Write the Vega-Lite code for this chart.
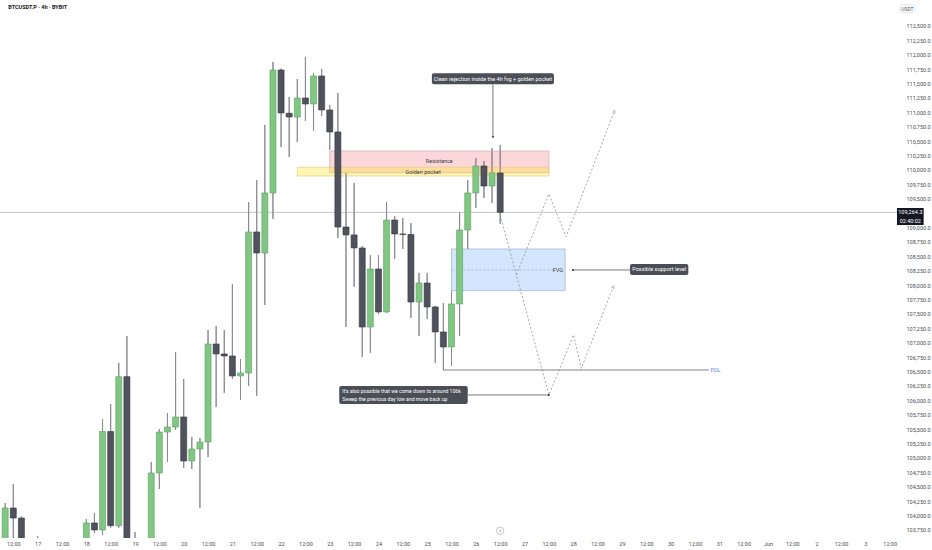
{
  "$schema": "https://vega.github.io/schema/vega-lite/v6.json",
  "width": 900,
  "height": 538,
  "autosize": {"type": "none"},
  "padding": {"left": 0, "top": 0, "right": 32, "bottom": 12},
  "background": "#ffffff",
  "config": {"view": {"stroke": null}, "font": "Roboto"},
  "datasets": {
    "candles": [
      {"t": "2025-05-16T08:00:00Z", "o": 103500, "h": 104219, "l": 103400, "c": 104132},
      {"t": "2025-05-16T12:00:00Z", "o": 104132, "h": 104549, "l": 103550, "c": 103958},
      {"t": "2025-05-16T16:00:00Z", "o": 103958, "h": 103985, "l": 103300, "c": 103450},
      {"t": "2025-05-16T20:00:00Z", "o": 103450, "h": 103580, "l": 103150, "c": 103350},
      {"t": "2025-05-17T00:00:00Z", "o": 103350, "h": 103646, "l": 103100, "c": 103250},
      {"t": "2025-05-17T04:00:00Z", "o": 103250, "h": 103450, "l": 102950, "c": 103100},
      {"t": "2025-05-17T08:00:00Z", "o": 103100, "h": 103300, "l": 102700, "c": 102850},
      {"t": "2025-05-17T12:00:00Z", "o": 102850, "h": 103200, "l": 102600, "c": 103050},
      {"t": "2025-05-17T16:00:00Z", "o": 103050, "h": 103350, "l": 102900, "c": 103150},
      {"t": "2025-05-17T20:00:00Z", "o": 103150, "h": 103500, "l": 102800, "c": 103300},
      {"t": "2025-05-18T00:00:00Z", "o": 103300, "h": 103941, "l": 103150, "c": 103872},
      {"t": "2025-05-18T04:00:00Z", "o": 103872, "h": 104045, "l": 103698, "c": 103750},
      {"t": "2025-05-18T08:00:00Z", "o": 103750, "h": 105677, "l": 103663, "c": 105460},
      {"t": "2025-05-18T12:00:00Z", "o": 105460, "h": 105938, "l": 103790, "c": 103825},
      {"t": "2025-05-18T16:00:00Z", "o": 103825, "h": 106649, "l": 103790, "c": 106412},
      {"t": "2025-05-18T20:00:00Z", "o": 106412, "h": 107118, "l": 103000, "c": 103350},
      {"t": "2025-05-19T00:00:00Z", "o": 103350, "h": 103715, "l": 102600, "c": 102900},
      {"t": "2025-05-19T04:00:00Z", "o": 102900, "h": 103500, "l": 102500, "c": 103250},
      {"t": "2025-05-19T08:00:00Z", "o": 103250, "h": 104931, "l": 103100, "c": 104740},
      {"t": "2025-05-19T12:00:00Z", "o": 104740, "h": 105503, "l": 104462, "c": 105451},
      {"t": "2025-05-19T16:00:00Z", "o": 105451, "h": 105781, "l": 104931, "c": 105538},
      {"t": "2025-05-19T20:00:00Z", "o": 105538, "h": 106840, "l": 105486, "c": 105712},
      {"t": "2025-05-20T00:00:00Z", "o": 105712, "h": 106372, "l": 104826, "c": 104948},
      {"t": "2025-05-20T04:00:00Z", "o": 104948, "h": 105365, "l": 104809, "c": 105156},
      {"t": "2025-05-20T08:00:00Z", "o": 105156, "h": 105347, "l": 104132, "c": 105278},
      {"t": "2025-05-20T12:00:00Z", "o": 105278, "h": 107222, "l": 105017, "c": 106979},
      {"t": "2025-05-20T16:00:00Z", "o": 106979, "h": 107292, "l": 105885, "c": 106806},
      {"t": "2025-05-20T20:00:00Z", "o": 106806, "h": 107222, "l": 106128, "c": 106771},
      {"t": "2025-05-21T00:00:00Z", "o": 106771, "h": 108021, "l": 106372, "c": 106424},
      {"t": "2025-05-21T04:00:00Z", "o": 106424, "h": 106719, "l": 106007, "c": 106476},
      {"t": "2025-05-21T08:00:00Z", "o": 106476, "h": 109444, "l": 106250, "c": 108924},
      {"t": "2025-05-21T12:00:00Z", "o": 108924, "h": 109826, "l": 106076, "c": 108559},
      {"t": "2025-05-21T16:00:00Z", "o": 108559, "h": 110781, "l": 107656, "c": 109601},
      {"t": "2025-05-21T20:00:00Z", "o": 109601, "h": 111875, "l": 109149, "c": 111736},
      {"t": "2025-05-22T00:00:00Z", "o": 111736, "h": 111760, "l": 110399, "c": 110990},
      {"t": "2025-05-22T04:00:00Z", "o": 110985, "h": 111267, "l": 110226, "c": 110920},
      {"t": "2025-05-22T08:00:00Z", "o": 110920, "h": 111580, "l": 110486, "c": 111250},
      {"t": "2025-05-22T12:00:00Z", "o": 111250, "h": 111962, "l": 110851, "c": 111146},
      {"t": "2025-05-22T16:00:00Z", "o": 111146, "h": 111684, "l": 110677, "c": 111632},
      {"t": "2025-05-22T20:00:00Z", "o": 111632, "h": 111754, "l": 110938, "c": 111042},
      {"t": "2025-05-23T00:00:00Z", "o": 111042, "h": 111128, "l": 110347, "c": 110660},
      {"t": "2025-05-23T04:00:00Z", "o": 110660, "h": 111337, "l": 108819, "c": 109010},
      {"t": "2025-05-23T08:00:00Z", "o": 109010, "h": 109948, "l": 107274, "c": 108872},
      {"t": "2025-05-23T12:00:00Z", "o": 108872, "h": 109774, "l": 107969, "c": 108646},
      {"t": "2025-05-23T16:00:00Z", "o": 108646, "h": 108680, "l": 106754, "c": 107274},
      {"t": "2025-05-23T20:00:00Z", "o": 107274, "h": 108524, "l": 106823, "c": 108281},
      {"t": "2025-05-24T00:00:00Z", "o": 108281, "h": 108524, "l": 107500, "c": 107535},
      {"t": "2025-05-24T04:00:00Z", "o": 107535, "h": 109444, "l": 107520, "c": 109132},
      {"t": "2025-05-24T08:00:00Z", "o": 109132, "h": 109202, "l": 108455, "c": 108889},
      {"t": "2025-05-24T12:00:00Z", "o": 108889, "h": 109167, "l": 108628, "c": 108880},
      {"t": "2025-05-24T16:00:00Z", "o": 108880, "h": 109080, "l": 107431, "c": 107708},
      {"t": "2025-05-24T20:00:00Z", "o": 107708, "h": 108212, "l": 107118, "c": 108038},
      {"t": "2025-05-25T00:00:00Z", "o": 108038, "h": 108212, "l": 107413, "c": 107622},
      {"t": "2025-05-25T04:00:00Z", "o": 107622, "h": 107640, "l": 106649, "c": 107188},
      {"t": "2025-05-25T08:00:00Z", "o": 107188, "h": 107691, "l": 106528, "c": 106927},
      {"t": "2025-05-25T12:00:00Z", "o": 106927, "h": 107899, "l": 106597, "c": 107674},
      {"t": "2025-05-25T16:00:00Z", "o": 107674, "h": 109271, "l": 107118, "c": 108958},
      {"t": "2025-05-25T20:00:00Z", "o": 108958, "h": 109826, "l": 108628, "c": 109601},
      {"t": "2025-05-26T00:00:00Z", "o": 109601, "h": 110208, "l": 109340, "c": 110069},
      {"t": "2025-05-26T04:00:00Z", "o": 110069, "h": 110156, "l": 109514, "c": 109722},
      {"t": "2025-05-26T08:00:00Z", "o": 109722, "h": 110382, "l": 109427, "c": 109948},
      {"t": "2025-05-26T12:00:00Z", "o": 109948, "h": 110434, "l": 109063, "c": 109264.3}
    ],
    "lastprice": [{"price": 109264.3}],
    "zones": [
      {"zone": "Resistance", "t0": "2025-05-23T00:00:00Z", "t1": "2025-05-27T12:00:00Z", "lo": 109953, "hi": 110330},
      {"zone": "Golden pocket", "t0": "2025-05-22T08:00:00Z", "t1": "2025-05-27T12:00:00Z", "lo": 109896, "hi": 110047},
      {"zone": "FVG", "t0": "2025-05-25T12:00:00Z", "t1": "2025-05-27T20:00:00Z", "lo": 107905, "hi": 108628}
    ],
    "zonetext": [
      {"text": "Resistance", "t": "2025-05-25T06:00:00Z", "p": 110160},
      {"text": "Golden pocket", "t": "2025-05-24T22:00:00Z", "p": 109970}
    ],
    "fvgtext": [{"text": "FVG", "t": "2025-05-27T19:00:00Z", "p": 108264}],
    "fvgmid": [{"t0": "2025-05-25T12:00:00Z", "t1": "2025-05-27T15:00:00Z", "p": 108264}],
    "pdl": [{"t0": "2025-05-25T08:00:00Z", "t1": "2025-05-30T18:50:00Z", "p": 106528, "text": "PDL", "tt": "2025-05-30T19:40:00Z"}],
    "paths": [
      {"path": "down", "step": 1, "t": "2025-05-26T12:00:00Z", "p": 109219},
      {"path": "down", "step": 2, "t": "2025-05-27T12:00:00Z", "p": 106094},
      {"path": "down", "step": 3, "t": "2025-05-28T00:10:00Z", "p": 107136},
      {"path": "down", "step": 4, "t": "2025-05-28T04:00:00Z", "p": 106557},
      {"path": "down", "step": 5, "t": "2025-05-28T19:40:00Z", "p": 107964},
      {"path": "up", "step": 1, "t": "2025-05-26T20:00:00Z", "p": 108180},
      {"path": "up", "step": 2, "t": "2025-05-27T12:00:00Z", "p": 109583},
      {"path": "up", "step": 3, "t": "2025-05-27T20:30:00Z", "p": 108842},
      {"path": "up", "step": 4, "t": "2025-05-28T20:10:00Z", "p": 111012}
    ],
    "arrows": [
      {"t": "2025-05-28T19:40:00Z", "p": 107964},
      {"t": "2025-05-28T20:10:00Z", "p": 111012}
    ],
    "connectors": [
      {"t0": "2025-05-26T08:25:00Z", "t1": "2025-05-26T08:25:00Z", "p0": 111488, "p1": 110578},
      {"t0": "2025-05-27T23:50:00Z", "t1": "2025-05-29T04:00:00Z", "p0": 108264, "p1": 108264},
      {"t0": "2025-05-25T20:00:00Z", "t1": "2025-05-27T12:00:00Z", "p0": 106094, "p1": 106094}
    ],
    "dots": [
      {"t": "2025-05-26T08:25:00Z", "p": 110578},
      {"t": "2025-05-27T23:50:00Z", "p": 108264},
      {"t": "2025-05-27T12:00:00Z", "p": 106094}
    ],
    "labelboxes": [
      {"t0": "2025-05-25T02:20:00Z", "t1": "2025-05-27T14:30:00Z", "p0": 111488, "p1": 111679},
      {"t0": "2025-05-29T04:00:00Z", "t1": "2025-05-30T08:45:00Z", "p0": 108177, "p1": 108368},
      {"t0": "2025-05-23T04:40:00Z", "t1": "2025-05-25T20:00:00Z", "p0": 105938, "p1": 106250}
    ],
    "labelcenter": [
      {"text": "Clean rejection inside the 4h fvg + golden pocket", "t": "2025-05-26T08:25:00Z", "p": 111583},
      {"text": "Possible support level", "t": "2025-05-29T18:22:00Z", "p": 108273}
    ],
    "labelleft": [
      {"text": "It's also possible that we come down to around 106k", "t": "2025-05-23T06:10:00Z", "p": 106168},
      {"text": "Sweep the previous day low and move back up", "t": "2025-05-23T06:10:00Z", "p": 106024}
    ],
    "pricetag": [{"t0": "2025-06-03T15:35:00Z", "t1": "2025-06-04T04:45:00Z", "p0": 109045, "p1": 109340}],
    "pricetagtext": [
      {"text": "109,264.3", "t": "2025-06-03T22:10:00Z", "p": 109271},
      {"text": "02:40:02", "t": "2025-06-03T22:10:00Z", "p": 109120}
    ],
    "unitbox": [{"t0": "2025-06-03T17:05:00Z", "t1": "2025-06-04T00:20:00Z", "p0": 112731, "p1": 112865, "text": "USDT", "t": "2025-06-03T20:43:00Z", "p": 112798}],
    "title": [{"text": "BTCUSDT.P · 4h · BYBIT", "t": "2025-05-16T09:30:00Z", "p": 112825}],
    "event": [{"t": "2025-05-26T12:00:00Z", "p": 103735, "text": "⚡"}]
  },
  "layer": [
    {
      "data": {"name": "candles"},
      "mark": {"type": "rule", "color": "#8a8c93", "strokeWidth": 1, "clip": true},
      "encoding": {
        "x": {
          "field": "t", "type": "temporal",
          "scale": {"type": "utc", "nice": false, "domain": [1747382100000, 1748961420000]},
          "axis": {"orient": "bottom", "title": null, "tickCount": 200, "values": [1747396800000, 1747440000000, 1747483200000, 1747526400000, 1747569600000, 1747612800000, 1747656000000, 1747699200000, 1747742400000, 1747785600000, 1747828800000, 1747872000000, 1747915200000, 1747958400000, 1748001600000, 1748044800000, 1748088000000, 1748131200000, 1748174400000, 1748217600000, 1748260800000, 1748304000000, 1748347200000, 1748390400000, 1748433600000, 1748476800000, 1748520000000, 1748563200000, 1748606400000, 1748649600000, 1748692800000, 1748736000000, 1748779200000, 1748822400000, 1748865600000, 1748908800000, 1748952000000], "labelExpr": "utchours(datum.value) == 12 ? '12:00' : (utcdate(datum.value) == 1 ? 'Jun' : '' + utcdate(datum.value))", "domain": false, "ticks": false, "grid": false, "labelFontSize": 5.5, "labelColor": "#4a4c52", "labelPadding": 3, "labelOverlap": false, "labelFlush": false, "labelFont": "Roboto"}
        },
        "y": {
          "field": "l", "type": "quantitative",
          "scale": {"domain": [103611, 112951], "nice": false, "zero": false},
          "axis": {"orient": "right", "title": null, "tickCount": 200, "values": [103750, 104000, 104250, 104500, 104750, 105000, 105250, 105500, 105750, 106000, 106250, 106500, 106750, 107000, 107250, 107500, 107750, 108000, 108250, 108500, 108750, 109000, 109500, 109750, 110000, 110250, 110500, 110750, 111000, 111250, 111500, 111750, 112000, 112250, 112500], "format": ",.1f", "domain": false, "ticks": false, "grid": false, "labelPadding": 6, "labelFontSize": 5.5, "labelColor": "#4a4c52", "labelOverlap": false, "labelFont": "Roboto"}
        },
        "y2": {"field": "h"}
      }
    },
    {
      "data": {"name": "lastprice"},
      "mark": {"type": "rule", "color": "#b6b8be", "strokeWidth": 0.8},
      "encoding": {"y": {"field": "price", "type": "quantitative"}}
    },
    {
      "data": {"name": "zones"},
      "mark": {"type": "rect", "strokeWidth": 0.8},
      "encoding": {
        "x": {"field": "t0", "type": "temporal"},
        "x2": {"field": "t1"},
        "y": {"field": "lo", "type": "quantitative"},
        "y2": {"field": "hi"},
        "fill": {"field": "zone", "type": "nominal", "legend": null, "scale": {"domain": ["Resistance", "Golden pocket", "FVG"], "range": ["rgba(242,54,69,0.2)", "rgba(255,230,60,0.38)", "rgba(33,130,243,0.2)"]}},
        "stroke": {"field": "zone", "type": "nominal", "legend": null, "scale": {"domain": ["Resistance", "Golden pocket", "FVG"], "range": ["#cdb7b9", "#e6d088", "#a9b9cf"]}}
      }
    },
    {
      "data": {"name": "fvgmid"},
      "mark": {"type": "rule", "color": "#9ea7b3", "strokeWidth": 0.7, "strokeDash": [2, 2]},
      "encoding": {
        "x": {"field": "t0", "type": "temporal"},
        "x2": {"field": "t1"},
        "y": {"field": "p", "type": "quantitative"}
      }
    },
    {
      "data": {"name": "zonetext"},
      "mark": {"type": "text", "fontSize": 5.5, "color": "#3a3c42", "align": "center", "baseline": "middle"},
      "encoding": {
        "x": {"field": "t", "type": "temporal"},
        "y": {"field": "p", "type": "quantitative"},
        "text": {"field": "text"}
      }
    },
    {
      "data": {"name": "fvgtext"},
      "mark": {"type": "text", "fontSize": 5.5, "color": "#3a3c42", "align": "right", "baseline": "middle"},
      "encoding": {
        "x": {"field": "t", "type": "temporal"},
        "y": {"field": "p", "type": "quantitative"},
        "text": {"field": "text"}
      }
    },
    {
      "data": {"name": "candles"},
      "mark": {"type": "rule", "color": "#8a8c93", "strokeWidth": 1, "clip": true},
      "encoding": {
        "x": {"field": "t", "type": "temporal"},
        "y": {"field": "l", "type": "quantitative"},
        "y2": {"field": "h"}
      }
    },
    {
      "data": {"name": "candles"},
      "mark": {"type": "bar", "size": 6, "strokeWidth": 0.6, "clip": true},
      "encoding": {
        "x": {"field": "t", "type": "temporal"},
        "y": {"field": "o", "type": "quantitative"},
        "y2": {"field": "c"},
        "fill": {"condition": {"test": "datum.c >= datum.o", "value": "#81c784"}, "value": "#50535e"},
        "stroke": {"condition": {"test": "datum.c >= datum.o", "value": "#5e9e61"}, "value": "#32343b"}
      }
    },
    {
      "data": {"name": "pdl"},
      "mark": {"type": "rule", "color": "#5d5f66", "strokeWidth": 0.8},
      "encoding": {
        "x": {"field": "t0", "type": "temporal"},
        "x2": {"field": "t1"},
        "y": {"field": "p", "type": "quantitative"}
      }
    },
    {
      "data": {"name": "pdl"},
      "mark": {"type": "text", "fontSize": 5.5, "color": "#5b8fd6", "align": "left", "baseline": "middle"},
      "encoding": {
        "x": {"field": "tt", "type": "temporal"},
        "y": {"field": "p", "type": "quantitative"},
        "text": {"field": "text"}
      }
    },
    {
      "data": {"name": "paths"},
      "mark": {"type": "line", "color": "#8d8f96", "strokeWidth": 0.8, "strokeDash": [2, 2]},
      "encoding": {
        "x": {"field": "t", "type": "temporal"},
        "y": {"field": "p", "type": "quantitative"},
        "detail": {"field": "path"},
        "order": {"field": "step", "type": "quantitative"}
      }
    },
    {
      "data": {"name": "arrows"},
      "mark": {"type": "point", "shape": "M-1,1L0,-1L1,1", "angle": 22, "size": 10, "filled": false, "color": "#8d8f96", "strokeWidth": 0.8},
      "encoding": {
        "x": {"field": "t", "type": "temporal"},
        "y": {"field": "p", "type": "quantitative"}
      }
    },
    {
      "data": {"name": "connectors"},
      "mark": {"type": "rule", "color": "#55575e", "strokeWidth": 0.8},
      "encoding": {
        "x": {"field": "t0", "type": "temporal"},
        "x2": {"field": "t1"},
        "y": {"field": "p0", "type": "quantitative"},
        "y2": {"field": "p1"}
      }
    },
    {
      "data": {"name": "dots"},
      "mark": {"type": "circle", "size": 4, "color": "#2f3136", "opacity": 1},
      "encoding": {
        "x": {"field": "t", "type": "temporal"},
        "y": {"field": "p", "type": "quantitative"}
      }
    },
    {
      "data": {"name": "labelboxes"},
      "mark": {"type": "rect", "color": "#4b4e57", "cornerRadius": 2},
      "encoding": {
        "x": {"field": "t0", "type": "temporal"},
        "x2": {"field": "t1"},
        "y": {"field": "p0", "type": "quantitative"},
        "y2": {"field": "p1"}
      }
    },
    {
      "data": {"name": "labelcenter"},
      "mark": {"type": "text", "fontSize": 5.5, "color": "#ffffff", "align": "center", "baseline": "middle"},
      "encoding": {
        "x": {"field": "t", "type": "temporal"},
        "y": {"field": "p", "type": "quantitative"},
        "text": {"field": "text"}
      }
    },
    {
      "data": {"name": "labelleft"},
      "mark": {"type": "text", "fontSize": 5.1, "color": "#ffffff", "align": "left", "baseline": "middle"},
      "encoding": {
        "x": {"field": "t", "type": "temporal"},
        "y": {"field": "p", "type": "quantitative"},
        "text": {"field": "text"}
      }
    },
    {
      "data": {"name": "pricetag"},
      "mark": {"type": "rect", "color": "#131722"},
      "encoding": {
        "x": {"field": "t0", "type": "temporal"},
        "x2": {"field": "t1"},
        "y": {"field": "p0", "type": "quantitative"},
        "y2": {"field": "p1"}
      }
    },
    {
      "data": {"name": "pricetagtext"},
      "mark": {"type": "text", "fontSize": 5.5, "color": "#ffffff", "align": "center", "baseline": "middle"},
      "encoding": {
        "x": {"field": "t", "type": "temporal"},
        "y": {"field": "p", "type": "quantitative"},
        "text": {"field": "text"}
      }
    },
    {
      "data": {"name": "unitbox"},
      "mark": {"type": "rect", "fill": "#ffffff", "stroke": "#d6d8dd", "strokeWidth": 0.7, "cornerRadius": 1.5},
      "encoding": {
        "x": {"field": "t0", "type": "temporal"},
        "x2": {"field": "t1"},
        "y": {"field": "p0", "type": "quantitative"},
        "y2": {"field": "p1"}
      }
    },
    {
      "data": {"name": "unitbox"},
      "mark": {"type": "text", "fontSize": 5, "color": "#4a4c52", "align": "center", "baseline": "middle"},
      "encoding": {
        "x": {"field": "t", "type": "temporal"},
        "y": {"field": "p", "type": "quantitative"},
        "text": {"field": "text"}
      }
    },
    {
      "data": {"name": "title"},
      "mark": {"type": "text", "fontSize": 5.5, "fontWeight": "bold", "color": "#131722", "align": "left", "baseline": "middle"},
      "encoding": {
        "x": {"field": "t", "type": "temporal"},
        "y": {"field": "p", "type": "quantitative"},
        "text": {"field": "text"}
      }
    },
    {
      "data": {"name": "event"},
      "mark": {"type": "point", "shape": "circle", "size": 55, "filled": true, "fill": "#ffffff", "stroke": "#8d8f96", "strokeWidth": 0.7},
      "encoding": {
        "x": {"field": "t", "type": "temporal"},
        "y": {"field": "p", "type": "quantitative"}
      }
    },
    {
      "data": {"name": "event"},
      "mark": {"type": "text", "fontSize": 5, "font": "DejaVu Sans", "color": "#6d6f76", "align": "center", "baseline": "middle"},
      "encoding": {
        "x": {"field": "t", "type": "temporal"},
        "y": {"field": "p", "type": "quantitative"},
        "text": {"field": "text"}
      }
    }
  ]
}
